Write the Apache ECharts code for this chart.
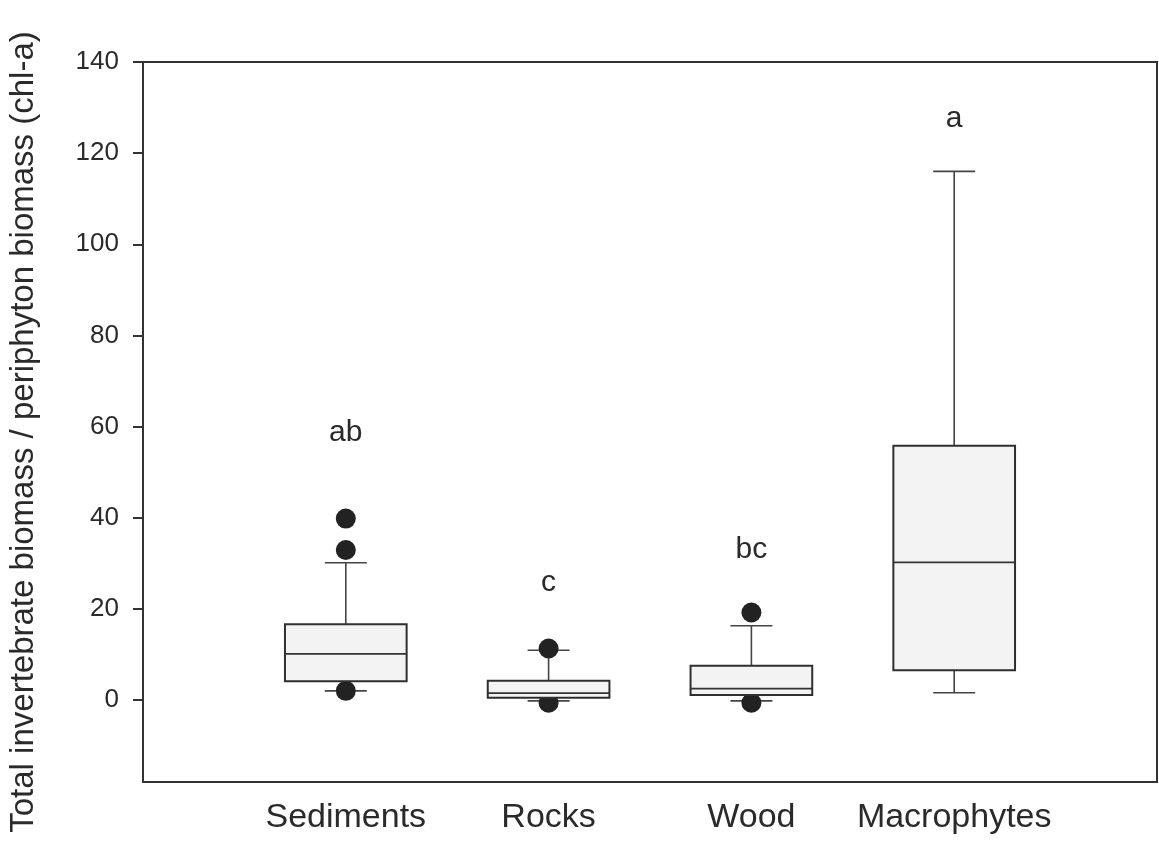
<!DOCTYPE html>
<html>
<head>
<meta charset="utf-8">
<script src="https://cdn.jsdelivr.net/npm/echarts@6/dist/echarts.min.js"></script>
<style>
  html, body { margin: 0; padding: 0; background: #fff; }
  #chart { width: 1159px; height: 845px; }
</style>
</head>
<body>
<div id="chart"></div>
<script>
// Substrate groups and their box summaries (min whisker, Q1, median, Q3, max whisker)
const categories = ['Sediments', 'Rocks', 'Wood', 'Macrophytes'];
const whiskerLow = [2.0, -0.2, -0.2, 1.6];
const quartile1 = [4.1, 0.5, 1.1, 6.5];
const medians = [10.1, 1.5, 2.5, 30.2];
const quartile3 = [16.6, 4.2, 7.5, 55.8];
const whiskerHigh = [30.1, 10.9, 16.3, 116.0];

// Outlying observations
const outliers = [
  ['Sediments', 39.8], ['Sediments', 32.9], ['Sediments', 2.0],
  ['Rocks', 11.3], ['Rocks', -0.6],
  ['Wood', 19.2], ['Wood', -0.6]
];

// Significance letters and the height at which they sit
const groupLetters = ['ab', 'c', 'bc', 'a'];
const letterHeights = [58.7, 25.7, 33.0, 127.6];

// Y axis ticks
const yTicks = [0, 20, 40, 60, 80, 100, 120, 140];

const FONT = '"Liberation Sans", Arial, Helvetica, sans-serif';
const INK = '#2a2a2a';

// Empty slots at both ends give the padding either side of the groups
const xSlots = [''].concat(categories, ['']);

const boxData = categories.map((c, i) => [c, whiskerLow[i], quartile1[i], medians[i], quartile3[i], whiskerHigh[i]]);
const letterData = categories.map((c, i) => [c, letterHeights[i], groupLetters[i]]);

const chart = echarts.init(document.getElementById('chart'), null, { renderer: 'canvas' });

function bandHalf(api) {
  const a = api.coord([xSlots[1], 0]);
  const b = api.coord([xSlots[2], 0]);
  return Math.abs(b[0] - a[0]) * 0.3;
}

chart.setOption({
  animation: false,
  backgroundColor: '#ffffff',
  grid: {
    left: 143, right: 2, top: 62, bottom: 63,
    outerBoundsMode: 'none',
    containLabel: false,
    show: true, borderColor: '#333', borderWidth: 2, backgroundColor: 'transparent'
  },
  xAxis: {
    type: 'category',
    data: xSlots,
    boundaryGap: false,
    axisLine: { show: true, onZero: false, lineStyle: { color: '#333', width: 2 } },
    axisTick: { show: false },
    splitLine: { show: false },
    axisLabel: {
      interval: 0, margin: 19,
      color: INK, fontFamily: FONT, fontSize: 34
    }
  },
  yAxis: {
    type: 'value',
    min: -18, max: 140,
    name: 'Total invertebrate biomass / periphyton biomass (chl-a)',
    nameLocation: 'middle',
    nameGap: 103,
    nameTextStyle: { color: INK, fontFamily: FONT, fontSize: 33, padding: [0, 20, 0, 0] },
    axisLine: { show: true, onZero: false, lineStyle: { color: '#333', width: 2 } },
    axisTick: { show: true, length: 10, lineStyle: { color: '#333', width: 2 }, customValues: yTicks },
    axisLabel: { margin: 24, color: INK, fontFamily: FONT, fontSize: 26, customValues: yTicks },
    splitLine: { show: false }
  },
  series: [
    {
      // whiskers and caps
      type: 'custom',
      z: 2,
      data: boxData,
      encode: { x: 0, y: [1, 2, 3, 4, 5] },
      renderItem: function (params, api) {
        const cat = api.value(0);
        const lo = api.coord([cat, api.value(1)]);
        const q1 = api.coord([cat, api.value(2)]);
        const q3 = api.coord([cat, api.value(4)]);
        const hi = api.coord([cat, api.value(5)]);
        const cap = 21;
        const st = { stroke: '#444', lineWidth: 1.6 };
        return {
          type: 'group',
          children: [
            { type: 'line', shape: { x1: lo[0], y1: lo[1], x2: q1[0], y2: q1[1] }, style: st },
            { type: 'line', shape: { x1: q3[0], y1: q3[1], x2: hi[0], y2: hi[1] }, style: st },
            { type: 'line', shape: { x1: lo[0] - cap, y1: lo[1], x2: lo[0] + cap, y2: lo[1] }, style: st },
            { type: 'line', shape: { x1: hi[0] - cap, y1: hi[1], x2: hi[0] + cap, y2: hi[1] }, style: st }
          ]
        };
      }
    },
    {
      type: 'scatter',
      z: 3,
      data: outliers,
      symbol: 'circle',
      symbolSize: 20,
      itemStyle: { color: '#222222', opacity: 1 }
    },
    {
      // boxes with median lines
      type: 'custom',
      z: 4,
      data: boxData,
      encode: { x: 0, y: [1, 2, 3, 4, 5] },
      renderItem: function (params, api) {
        const cat = api.value(0);
        const q1 = api.coord([cat, api.value(2)]);
        const md = api.coord([cat, api.value(3)]);
        const q3 = api.coord([cat, api.value(4)]);
        const hw = bandHalf(api);
        return {
          type: 'group',
          children: [
            {
              type: 'rect',
              shape: { x: q1[0] - hw, y: q3[1], width: hw * 2, height: q1[1] - q3[1] },
              style: { fill: '#f3f3f3', stroke: '#2f2f2f', lineWidth: 2 }
            },
            {
              type: 'line',
              shape: { x1: md[0] - hw, y1: md[1], x2: md[0] + hw, y2: md[1] },
              style: { stroke: '#333', lineWidth: 1.8 }
            }
          ]
        };
      }
    },
    {
      // significance letters
      type: 'custom',
      z: 5,
      data: letterData,
      encode: { x: 0, y: 1 },
      renderItem: function (params, api) {
        const p = api.coord([api.value(0), api.value(1)]);
        return {
          type: 'text',
          style: {
            text: letterData[params.dataIndex][2],
            x: p[0], y: p[1],
            align: 'center', verticalAlign: 'middle',
            font: '30px ' + FONT,
            fill: INK
          }
        };
      }
    }
  ]
});
</script>
</body>
</html>
